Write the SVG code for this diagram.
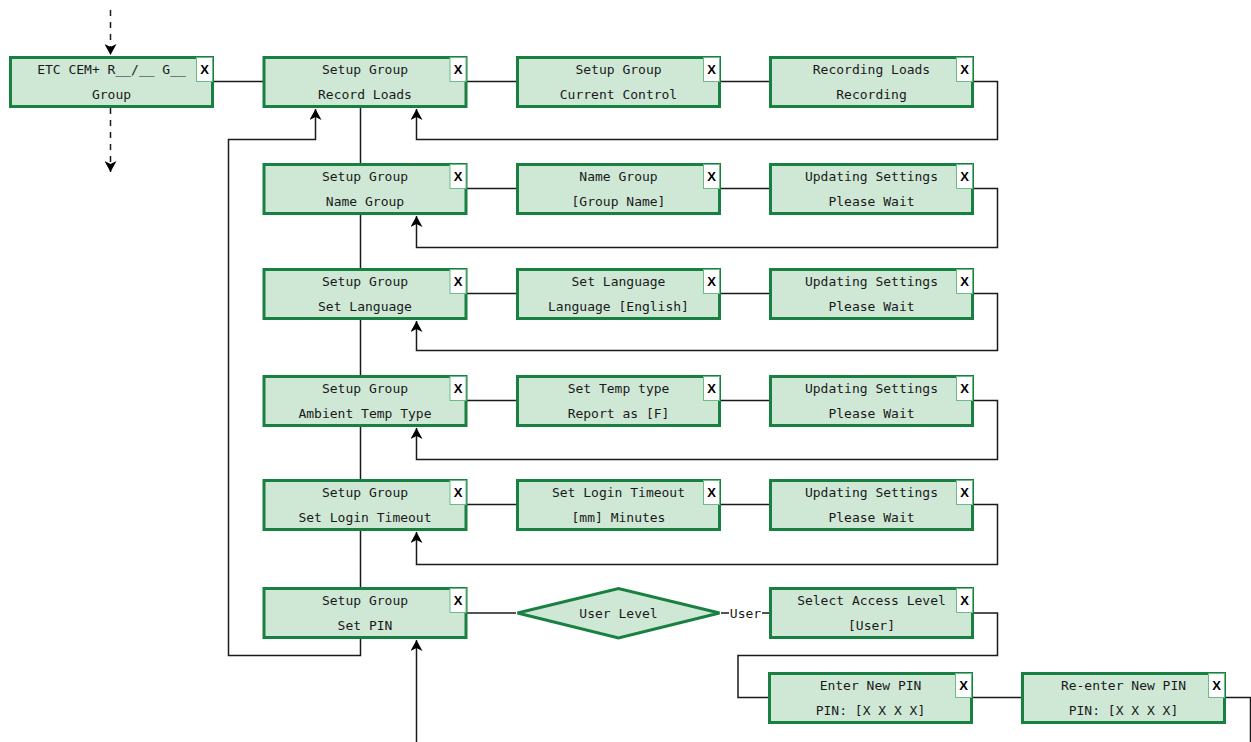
<svg xmlns="http://www.w3.org/2000/svg" width="1251" height="742" viewBox="0 0 1251 742">
<style>
.bx{fill:#cfe8d6;stroke:#188040;stroke-width:3}
.xb{fill:#ffffff;stroke:#6cbb86;stroke-width:1}
.t{font-family:"DejaVu Sans Mono","Liberation Mono",monospace;font-size:13px;fill:#1a1a1a;text-anchor:middle}
.x{font-family:"Liberation Sans",Arial,sans-serif;font-size:13px;font-weight:bold;fill:#000;text-anchor:middle}
.c{fill:none;stroke:#1a1a1a;stroke-width:1.5}
.d{fill:none;stroke:#1a1a1a;stroke-width:1.5;stroke-dasharray:6 6}
</style>
<defs>
<marker id="ar" markerUnits="userSpaceOnUse" markerWidth="12" markerHeight="12" refX="11" refY="6" orient="auto">
<path d="M0,0 L11,6 L0,12 L3,6 z" fill="#000"/>
</marker>
</defs>
<g id="connectors">
<path class="d" d="M110.5,10 V55" marker-end="url(#ar)"/>
<path class="d" d="M110.5,108 V172" marker-end="url(#ar)"/>
<path class="c" d="M214,81.5 H263"/>
<path class="c" d="M360.5,108 V655.5 H228.5 V139.5 H315.5 V109" marker-end="url(#ar)"/>
<path class="c" d="M467,81.5 H516"/>
<path class="c" d="M720,81.5 H769"/>
<path class="c" d="M973,81.5 H997.5 V139.5 H416.5 V109" marker-end="url(#ar)"/>
<path class="c" d="M467,188.5 H516"/>
<path class="c" d="M720,188.5 H769"/>
<path class="c" d="M973,188.5 H997.5 V247.5 H416.5 V216" marker-end="url(#ar)"/>
<path class="c" d="M467,293.5 H516"/>
<path class="c" d="M720,293.5 H769"/>
<path class="c" d="M973,293.5 H997.5 V350.5 H416.5 V321" marker-end="url(#ar)"/>
<path class="c" d="M467,400.5 H516"/>
<path class="c" d="M720,400.5 H769"/>
<path class="c" d="M973,400.5 H997.5 V459.5 H416.5 V428" marker-end="url(#ar)"/>
<path class="c" d="M467,504.5 H516"/>
<path class="c" d="M720,504.5 H769"/>
<path class="c" d="M973,504.5 H997.5 V564.5 H416.5 V532" marker-end="url(#ar)"/>
<path class="c" d="M467,613 H516"/>
<path class="c" d="M721,613 H769"/>
<rect x="729" y="604" width="33" height="17" fill="#fff"/>
<text class="t" x="745.5" y="617.5">User</text>
<path class="c" d="M973,613 H997.5 V655.5 H738 V697.5 H769"/>
<path class="c" d="M972,697.5 H1021"/>
<path class="c" d="M1225,697.5 H1250.5 V742"/>
<path class="c" d="M416.5,742 V640" marker-end="url(#ar)"/>
</g>
<g id="n_etc"><rect class="bx" x="10.5" y="57.5" width="202" height="49"/><rect class="xb" x="196.5" y="57.5" width="16" height="24"/><text class="x" x="204.5" y="74">X</text><text class="t" x="111.5" y="73.5">ETC CEM+ R__/__ G__</text><text class="t" x="111.5" y="98.5">Group</text></g>
<g id="n_r1c2"><rect class="bx" x="264" y="57.5" width="202" height="49"/><rect class="xb" x="450" y="57.5" width="16" height="24"/><text class="x" x="458" y="74">X</text><text class="t" x="365" y="73.5">Setup Group</text><text class="t" x="365" y="98.5">Record Loads</text></g>
<g id="n_r1c3"><rect class="bx" x="517.5" y="57.5" width="202" height="49"/><rect class="xb" x="703.5" y="57.5" width="16" height="24"/><text class="x" x="711.5" y="74">X</text><text class="t" x="618.5" y="73.5">Setup Group</text><text class="t" x="618.5" y="98.5">Current Control</text></g>
<g id="n_r1c4"><rect class="bx" x="770.5" y="57.5" width="202" height="49"/><rect class="xb" x="956.5" y="57.5" width="16" height="24"/><text class="x" x="964.5" y="74">X</text><text class="t" x="871.5" y="73.5">Recording Loads</text><text class="t" x="871.5" y="98.5">Recording</text></g>

<g id="n_r2c2"><rect class="bx" x="264" y="164.5" width="202" height="49"/><rect class="xb" x="450" y="164.5" width="16" height="24"/><text class="x" x="458" y="181">X</text><text class="t" x="365" y="180.5">Setup Group</text><text class="t" x="365" y="205.5">Name Group</text></g>
<g id="n_r2c3"><rect class="bx" x="517.5" y="164.5" width="202" height="49"/><rect class="xb" x="703.5" y="164.5" width="16" height="24"/><text class="x" x="711.5" y="181">X</text><text class="t" x="618.5" y="180.5">Name Group</text><text class="t" x="618.5" y="205.5">[Group Name]</text></g>
<g id="n_r2c4"><rect class="bx" x="770.5" y="164.5" width="202" height="49"/><rect class="xb" x="956.5" y="164.5" width="16" height="24"/><text class="x" x="964.5" y="181">X</text><text class="t" x="871.5" y="180.5">Updating Settings</text><text class="t" x="871.5" y="205.5">Please Wait</text></g>

<g id="n_r3c2"><rect class="bx" x="264" y="269.5" width="202" height="49"/><rect class="xb" x="450" y="269.5" width="16" height="24"/><text class="x" x="458" y="286">X</text><text class="t" x="365" y="285.5">Setup Group</text><text class="t" x="365" y="310.5">Set Language</text></g>
<g id="n_r3c3"><rect class="bx" x="517.5" y="269.5" width="202" height="49"/><rect class="xb" x="703.5" y="269.5" width="16" height="24"/><text class="x" x="711.5" y="286">X</text><text class="t" x="618.5" y="285.5">Set Language</text><text class="t" x="618.5" y="310.5">Language [English]</text></g>
<g id="n_r3c4"><rect class="bx" x="770.5" y="269.5" width="202" height="49"/><rect class="xb" x="956.5" y="269.5" width="16" height="24"/><text class="x" x="964.5" y="286">X</text><text class="t" x="871.5" y="285.5">Updating Settings</text><text class="t" x="871.5" y="310.5">Please Wait</text></g>

<g id="n_r4c2"><rect class="bx" x="264" y="376.5" width="202" height="49"/><rect class="xb" x="450" y="376.5" width="16" height="24"/><text class="x" x="458" y="393">X</text><text class="t" x="365" y="392.5">Setup Group</text><text class="t" x="365" y="417.5">Ambient Temp Type</text></g>
<g id="n_r4c3"><rect class="bx" x="517.5" y="376.5" width="202" height="49"/><rect class="xb" x="703.5" y="376.5" width="16" height="24"/><text class="x" x="711.5" y="393">X</text><text class="t" x="618.5" y="392.5">Set Temp type</text><text class="t" x="618.5" y="417.5">Report as [F]</text></g>
<g id="n_r4c4"><rect class="bx" x="770.5" y="376.5" width="202" height="49"/><rect class="xb" x="956.5" y="376.5" width="16" height="24"/><text class="x" x="964.5" y="393">X</text><text class="t" x="871.5" y="392.5">Updating Settings</text><text class="t" x="871.5" y="417.5">Please Wait</text></g>

<g id="n_r5c2"><rect class="bx" x="264" y="480.5" width="202" height="49"/><rect class="xb" x="450" y="480.5" width="16" height="24"/><text class="x" x="458" y="497">X</text><text class="t" x="365" y="496.5">Setup Group</text><text class="t" x="365" y="521.5">Set Login Timeout</text></g>
<g id="n_r5c3"><rect class="bx" x="517.5" y="480.5" width="202" height="49"/><rect class="xb" x="703.5" y="480.5" width="16" height="24"/><text class="x" x="711.5" y="497">X</text><text class="t" x="618.5" y="496.5">Set Login Timeout</text><text class="t" x="618.5" y="521.5">[mm] Minutes</text></g>
<g id="n_r5c4"><rect class="bx" x="770.5" y="480.5" width="202" height="49"/><rect class="xb" x="956.5" y="480.5" width="16" height="24"/><text class="x" x="964.5" y="497">X</text><text class="t" x="871.5" y="496.5">Updating Settings</text><text class="t" x="871.5" y="521.5">Please Wait</text></g>

<g id="n_r6c2"><rect class="bx" x="264" y="588.5" width="202" height="49"/><rect class="xb" x="450" y="588.5" width="16" height="24"/><text class="x" x="458" y="605">X</text><text class="t" x="365" y="604.5">Setup Group</text><text class="t" x="365" y="629.5">Set PIN</text></g>
<g id="n_userlevel"><polygon class="bx" points="517.5,613 618.5,588.5 719.5,613 618.5,638"/><text class="t" x="618.5" y="617.5">User Level</text></g>
<g id="n_r6c4"><rect class="bx" x="770.5" y="588.5" width="202" height="49"/><rect class="xb" x="956.5" y="588.5" width="16" height="24"/><text class="x" x="964.5" y="605">X</text><text class="t" x="871.5" y="604.5">Select Access Level</text><text class="t" x="871.5" y="629.5">[User]</text></g>

<g id="n_r7c4"><rect class="bx" x="769.5" y="673.5" width="202" height="49"/><rect class="xb" x="955.5" y="673.5" width="16" height="24"/><text class="x" x="963.5" y="690">X</text><text class="t" x="870.5" y="689.5">Enter New PIN</text><text class="t" x="870.5" y="714.5">PIN: [X X X X]</text></g>
<g id="n_r7c5"><rect class="bx" x="1022.5" y="673.5" width="202" height="49"/><rect class="xb" x="1208.5" y="673.5" width="16" height="24"/><text class="x" x="1216.5" y="690">X</text><text class="t" x="1123.5" y="689.5">Re-enter New PIN</text><text class="t" x="1123.5" y="714.5">PIN: [X X X X]</text></g>
</svg>
